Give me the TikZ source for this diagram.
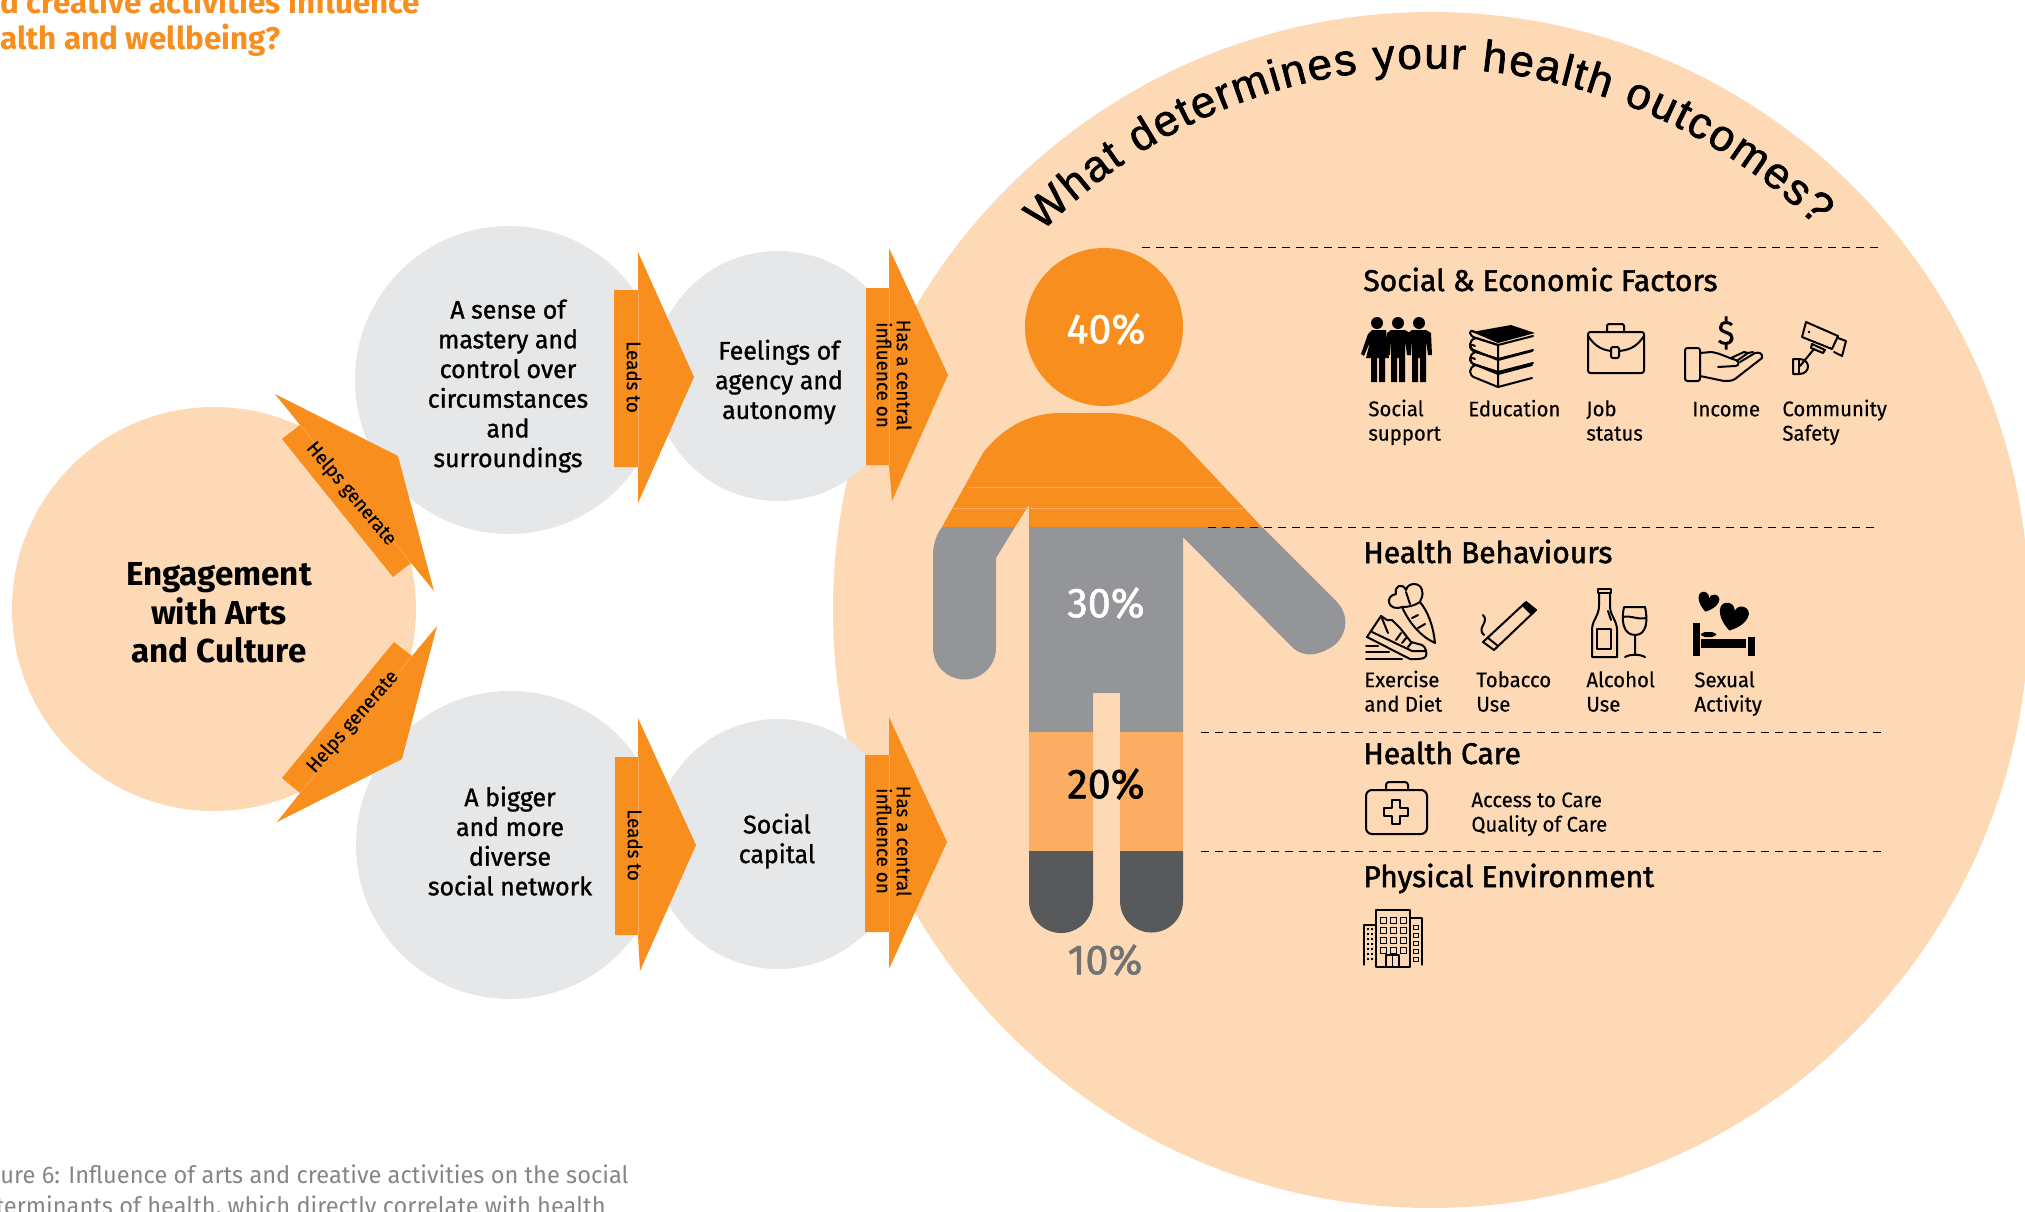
\documentclass[tikz,border=0pt]{standalone}
\usepackage{fontspec}
\usetikzlibrary{decorations.text}
\setmainfont{Fira Sans}
\newfontfamily\bodyf[FakeBold=1.2,FakeStretch=0.98]{Fira Sans}
\newfontfamily\lightf[FakeBold=0.3,FakeStretch=0.96]{Fira Sans}
\newfontfamily\headf[FakeBold=1.6]{Fira Sans}
\newfontfamily\capf[FakeStretch=0.985]{Fira Sans}
\newfontfamily\titlef[FakeBold=1.5]{Liberation Sans}
\definecolor{orangeM}{HTML}{F78E1E}
\definecolor{peach}{HTML}{FDD9B5}
\definecolor{grayC}{HTML}{E6E7E8}
\definecolor{grayM}{HTML}{939598}
\definecolor{grayD}{HTML}{58595B}
\definecolor{orangeL}{HTML}{FBAE63}
\definecolor{seam}{HTML}{FAAB60}
\tikzset{
 arrowblock/.style={fill=orangeM,draw=none},
 seamline/.style={draw=seam,line width=0.25pt},
 circtext/.style={align=center,font=\bodyf\fontsize{12.7}{14.85}\selectfont,text=black},
 arrowtext/.style={align=center,font=\lightf\fontsize{9.8}{10}\selectfont,text=black},
 heading/.style={anchor=base west,font=\headf\fontsize{15}{17}\selectfont,text=black},
 label/.style={anchor=west,align=left,font=\lightf\fontsize{10.6}{12.2}\selectfont,text=black},
 pct/.style={font=\bodyf\fontsize{21}{24}\selectfont},
 sep/.style={draw=black,line width=0.5pt,dash pattern=on 4pt off 3pt},
 ico/.style={draw=black,line width=1pt,line join=round,line cap=round},
 icof/.style={fill=black,draw=none},
}
\begin{document}
\begin{tikzpicture}[x=0.5pt,y=-0.5pt]
\useasboundingbox (0,0) rectangle (2025,1211);
% big circles
\fill[peach] (1431,610) circle[radius=598];
\fill[grayC] (509,380) circle[radius=154];
\fill[grayC] (510,845) circle[radius=154];
\fill[grayC] (778,376) circle[radius=125];
\fill[grayC] (778,844) circle[radius=125];
\fill[peach] (214,609) circle[radius=202];
% top-left title and caption
\node[anchor=base west,inner sep=0,font=\bfseries\fontsize{15.7}{17}\selectfont,text=orangeM] (t1) at (0,13) {d creative activities influence};
\node[anchor=base west,inner sep=0,font=\bfseries\fontsize{15.7}{17}\selectfont,text=orangeM] (t2) at (0,49) {alth and wellbeing?};
\node[anchor=base east,inner sep=0,font=\capf\fontsize{12}{14}\selectfont,text=grayM!90!black] (c1) at (629,1183) {ure 6: Influence of arts and creative activities on the social};
\node[anchor=base east,inner sep=0,font=\capf\fontsize{12}{14}\selectfont,text=grayM!90!black] (c2) at (606,1214) {terminants of health, which directly correlate with health};
% block arrows
\fill[arrowblock] (275,394)--(398,456)--(434,591)--(411,563)--(393,577)--(282,439)--(300,425)--cycle;
\draw[seamline] (300,425)--(411,563);
\fill[arrowblock] (277,822)--(402,759)--(437,626)--(412,656)--(394,642)--(282,778)--(300,793)--cycle;
\draw[seamline] (300,793)--(412,656);
\fill[arrowblock] (614,290)--(638,290)--(638,252)--(694,377)--(638,503)--(638,467)--(614,467)--cycle;
\draw[seamline] (638,290)--(638,467);
\fill[arrowblock] (615,757)--(638,757)--(638,718)--(696,845)--(640,971)--(638,935)--(615,935)--cycle;
\draw[seamline] (638,757)--(638,935);
\fill[arrowblock] (866,288)--(889,288)--(889,248)--(948,375)--(892,501)--(889,465)--(866,465)--cycle;
\draw[seamline] (889,288)--(889,465);
\fill[arrowblock] (865,755)--(889,755)--(889,717)--(947,842)--(889,969)--(889,932)--(865,932)--cycle;
\draw[seamline] (889,755)--(889,932);
\node[arrowtext,rotate=-50] (hg1) at (351,494) {Helps generate};
\node[arrowtext,rotate=49] (hg2) at (353,722) {Helps generate};
\node[arrowtext,rotate=-90] (lt1) at (634,377) {Leads to};
\node[arrowtext,rotate=-90] (lt2) at (635,845) {Leads to};
\node[arrowtext,rotate=-90] (hc1) at (894,375) {Has a central\\influence on};
\node[arrowtext,rotate=-90] (hc2) at (894,841) {Has a central\\influence on};
% circle texts
\node[align=center,font=\bfseries\fontsize{16.6}{19.2}\selectfont] (eng) at (219,613) {Engagement\\with Arts\\and Culture};
\node[circtext] (mast) at (508,386) {A sense of\\mastery and\\control over\\circumstances\\and\\surroundings};
\node[circtext] (feel) at (779,382) {Feelings of\\agency and\\autonomy};
\node[circtext] (big) at (510,841) {A bigger\\and more\\diverse\\social network};
\node[circtext] (cap) at (777,841) {Social\\capital};
% title on arc
\path[decorate,decoration={text along path,text align={fit to path},
 text={|\titlef\fontsize{22}{26}\selectfont|What determines your health outcomes?}}]
 (1042,232) .. controls (1258,15) and (1596,15) .. (1816,226);
% person
\fill[orangeM] (1104,327) circle[radius=79];
\fill[orangeM] (942,527)--(983,453) .. controls (1003,427) and (1030,413) .. (1060,413)--(1107,413) .. controls (1135,413) and (1162,423) .. (1183,443)--(1262,527)--(1029,527)--(1029,505)--(1015,527)--cycle;
\draw[seamline] (968,487)--(1222,487);
\draw[seamline] (953,508)--(1243,508);
\fill[grayM] (942,527) .. controls (936,535) and (933,545) .. (933,555)--(933,648) arc[start angle=180,end angle=0,radius=31.5]--(996,558)--(1015,527)--cycle;
\fill[grayM] (1029,527)--(1262,527)--(1337,602) .. controls (1352,618) and (1345,640) .. (1330,648) .. controls (1318,655) and (1305,658) .. (1293,648)--(1183,537)--(1183,732)--(1120,732)--(1120,693)--(1093,693)--(1093,732)--(1029,732)--cycle;
\fill[orangeL] (1029,732) rectangle (1093,851);
\fill[orangeL] (1120,732) rectangle (1183,851);
\fill[grayD] (1029,851)--(1093,851)--(1093,901) arc[start angle=0,end angle=180,radius=32]--cycle;
\fill[grayD] (1120,851)--(1183,851)--(1183,901) arc[start angle=0,end angle=180,radius=31.5]--cycle;
\node[pct,text=white] (p40) at (1106,329) {40\%};
\node[pct,text=white] (p30) at (1106,603) {30\%};
\node[pct,text=black] (p20) at (1106,784) {20\%};
\node[pct,text=grayD!85!white] (p10) at (1105,960) {10\%};
% separators
\coordinate (s1a) at (1142,247); \coordinate (s1b) at (1882,247);
\coordinate (s2a) at (1208,527); \coordinate (s2b) at (1878,527);
\coordinate (s3a) at (1201,732); \coordinate (s3b) at (1882,732);
\coordinate (s4a) at (1201,851); \coordinate (s4b) at (1882,851);
\draw[sep] (s1a)--(s1b); \draw[sep] (s2a)--(s2b); \draw[sep] (s3a)--(s3b); \draw[sep] (s4a)--(s4b);
% headings
\node[heading,inner sep=0] (h1) at (1363,291) {Social \& Economic Factors};
\node[heading,inner sep=0] (h2) at (1363,563) {Health Behaviours};
\node[heading,inner sep=0] (h3) at (1363,764) {Health Care};
\node[heading,inner sep=0] (h4) at (1363,887) {Physical Environment};
% labels
\node[label,inner sep=0] (l1) at (1368,423.5) {\strut Social\\\strut support};
\node[label,inner sep=0] (l2) at (1468,411.5) {\strut Education};
\node[label,inner sep=0] (l3) at (1586,423.5) {\strut Job\\\strut status};
\node[label,inner sep=0] (l4) at (1692,411.5) {\strut Income};
\node[label,inner sep=0] (l5) at (1782,423.5) {\strut Community\\\strut Safety};
\node[label,inner sep=0] (l6) at (1364,694.5) {\strut Exercise\\\strut and Diet};
\node[label,inner sep=0] (l7) at (1476,694.5) {\strut Tobacco\\\strut Use};
\node[label,inner sep=0] (l8) at (1586,694.5) {\strut Alcohol\\\strut Use};
\node[label,inner sep=0] (l9) at (1694,694.5) {\strut Sexual\\\strut Activity};
\node[label,inner sep=0] (l10) at (1471,814.5) {\strut Access to Care\\\strut Quality of Care};
% --- icons ---
% people
\fill[black] (1377,323) circle[radius=6] (1398,323) circle[radius=6] (1419,323) circle[radius=6];
\fill[icof] (1372,330)--(1386,330)--(1389,358)--(1385,358)--(1385,382)--(1379,382)--(1379,358)--(1377,358)--(1377,382)--(1371,382)--(1371,358)--(1366,358)--(1370,342)--(1364,356)--(1361,354)--(1368,334)--cycle;
\foreach \d in {0,21}{
\begin{scope}[shift={(\d,0)}]
\fill[icof] (1391,330)--(1405,330)--(1410,333)--(1411,355)--(1407,355)--(1405,340)--(1405,382)--(1399,382)--(1399,358)--(1397,358)--(1397,382)--(1391,382)--(1391,340)--(1390,355)--(1387,355)--(1387,333)--cycle;
\end{scope}}
% books
\foreach \y in {0,14,27}{
\draw[ico] (1533,336+\y)--(1498,345+\y)--(1476,338+\y) .. controls (1468,336+\y) and (1468,328+\y) .. (1475,332+\y);
\draw[ico] (1476,338+\y)--(1498,345+\y)--(1498,360+\y)--(1476,351+\y) .. controls (1468,349+\y) and (1468,340+\y) .. (1476,338+\y);
\draw[ico] (1498,360+\y)--(1532,351+\y);
}
\fill[icof] (1472,332)--(1511,325)--(1535,333)--(1498,343)--cycle;
% briefcase
\draw[ico,rounded corners=1.2pt] (1588,332) rectangle (1644,373);
\draw[ico,rounded corners=1pt] (1607,332)--(1607,324)--(1624,324)--(1624,332);
\draw[ico] (1588,336) .. controls (1596,348) and (1604,350) .. (1611,351);
\draw[ico] (1644,336) .. controls (1636,348) and (1628,350) .. (1619,351);
\draw[ico,rounded corners=1pt] (1611,347) rectangle (1619,358);
% income
\draw[ico,rounded corners=1.2pt] (1685,348) rectangle (1700,381);
\draw[ico] (1700,353)--(1711,352) .. controls (1720,353) and (1728,358) .. (1736,360) .. controls (1740,362) and (1739,366) .. (1735,366)--(1718,367);
\draw[ico] (1700,376)--(1724,381) .. controls (1728,381) and (1732,381) .. (1735,379)--(1762,358) .. controls (1763,353) and (1759,352) .. (1755,353)--(1740,362);
\draw[ico] (1731,358)--(1744,352)--(1748,353)--(1738,360);
\draw[ico] (1748,353)--(1753,352);
\node[inner sep=0,font=\lightf\fontsize{17}{18}\selectfont] (dollar) at (1726,333) {\$};
% camera
\draw[ico,fill=peach] (1806,322)--(1838,336)--(1832,349)--(1802,337)--cycle;
\draw[ico] (1838,338)--(1846,341)--(1842,356)--(1834,352);
\fill[black] (1809,332) circle[radius=1.3];
\draw[ico] (1812,344)--(1825,350)--(1823,353)--(1811,348)--cycle;
\draw[ico] (1814,349)--(1800,366);
\draw[ico] (1793,359)--(1799,359) .. controls (1811,359) and (1811,374) .. (1799,374)--(1793,374)--cycle;
\draw[ico] (1799,359)--(1799,374);
% sneaker
\draw[ico] (1367,637)--(1381,616)--(1387,620)--(1392,620)--(1400,628)--(1411,642)--(1422,645) .. controls (1426,647) and (1427,653) .. (1426,656) .. controls (1424,659) and (1420,659) .. (1417,659)--(1410,659)--cycle;
\draw[ico] (1372,632)--(1412,651)--(1426,651);
\draw[ico] (1396,640)--(1401,633) (1402,643)--(1407,637) (1408,647)--(1412,642) (1381,616)--(1388,633);
\draw[ico] (1366,646)--(1378,646) (1366,652)--(1389,652) (1366,659)--(1402,659);
% carrot
\draw[ico] (1402,607) .. controls (1408,620) and (1418,635) .. (1435,643) .. controls (1433,625) and (1428,612) .. (1420,602);
\draw[ico] (1402,607) .. controls (1388,612) and (1384,596) .. (1396,594) .. controls (1394,586) and (1402,582) .. (1406,590) .. controls (1408,582) and (1420,582) .. (1422,590) .. controls (1424,596) and (1420,600) .. (1420,602) .. controls (1414,606) and (1408,607) .. (1402,607);
\draw[ico] (1412,618)--(1418,615) (1418,628)--(1425,624) (1406,592)--(1410,604);
% cigarette
\draw[ico] (1483,642)--(1526,602)--(1536,610)--(1494,650)--cycle;
\fill[icof] (1522,606)--(1526,602)--(1536,610)--(1531,615)--cycle;
\draw[ico] (1488,638)--(1498,646);
\draw[ico] (1483,615) .. controls (1490,622) and (1476,628) .. (1484,635);
% bottle
\draw[ico] (1599,593)--(1599,606) .. controls (1599,616) and (1592,620) .. (1592,630)--(1592,657)--(1617,657)--(1617,630) .. controls (1617,620) and (1610,616) .. (1610,606)--(1610,593);
\draw[ico] (1598,589) rectangle (1611,593);
\draw[ico] (1597,629) rectangle (1611,649);
\draw[ico] (1608,611)--(1611,620);
% glass
\draw[ico] (1624,607)--(1645,607) .. controls (1648,620) and (1647,635) .. (1635,635) .. controls (1623,635) and (1621,620) .. (1624,607);
\draw[ico] (1623,617) .. controls (1630,615) and (1638,620) .. (1646,618);
\draw[ico] (1635,635)--(1635,655) (1625,657) .. controls (1630,654) and (1640,654) .. (1645,657);
% bed with hearts
\fill[icof] (1693,623) rectangle (1700,656);
\fill[icof] (1748,637) rectangle (1755,656);
\fill[icof] (1701,639) rectangle (1746,648);
\fill[black,rounded corners=2pt] (1701,632) rectangle (1716,637);
\begin{scope}[shift={(1708,602)},rotate=-15,scale=10]
\fill[black] (0,1) .. controls (-1.3,0.2) and (-1.3,-0.9) .. (-0.5,-0.9) .. controls (-0.2,-0.9) and (0,-0.6) .. (0,-0.4) .. controls (0,-0.6) and (0.2,-0.9) .. (0.5,-0.9) .. controls (1.3,-0.9) and (1.3,0.2) .. (0,1) -- cycle;
\end{scope}
\begin{scope}[shift={(1733,617)},rotate=-15,scale=14]
\fill[black] (0,1) .. controls (-1.3,0.2) and (-1.3,-0.9) .. (-0.5,-0.9) .. controls (-0.2,-0.9) and (0,-0.6) .. (0,-0.4) .. controls (0,-0.6) and (0.2,-0.9) .. (0.5,-0.9) .. controls (1.3,-0.9) and (1.3,0.2) .. (0,1) -- cycle;
\end{scope}
% first aid kit
\draw[ico,rounded corners=3pt] (1366,790) rectangle (1427,834);
\draw[ico,rounded corners=1.5pt] (1386,790)--(1386,782)--(1408,782)--(1408,790);
\draw[ico] (1392,800)--(1400,800)--(1400,808)--(1408,808)--(1408,816)--(1400,816)--(1400,824)--(1392,824)--(1392,816)--(1384,816)--(1384,808)--(1392,808)--cycle;
% building
\draw[ico,line width=0.6pt] (1376,967)--(1376,910)--(1410,910)--(1410,967)--cycle;
\draw[ico,line width=0.6pt] (1376,925)--(1364,925)--(1364,965) (1410,918)--(1422,918)--(1422,965);
\foreach \wy in {917,927,937,947}{\foreach \wx in {1380,1390,1400}{\draw[ico,line width=0.45pt] (\wx,\wy) rectangle +(6,6);}}
\foreach \wy in {925,933,941,949,957}{\draw[ico,line width=0.4pt] (1413,\wy) rectangle +(5,4);}
\foreach \wy in {928,933,...,962}{\foreach \wx in {1367,1371}{\fill[black] (\wx,\wy) rectangle +(2.4,2.4);}}
\draw[ico,line width=0.6pt] (1386,967)--(1386,955)--(1399,955)--(1399,967) (1392.5,955)--(1392.5,967);
\end{tikzpicture}
\end{document}
